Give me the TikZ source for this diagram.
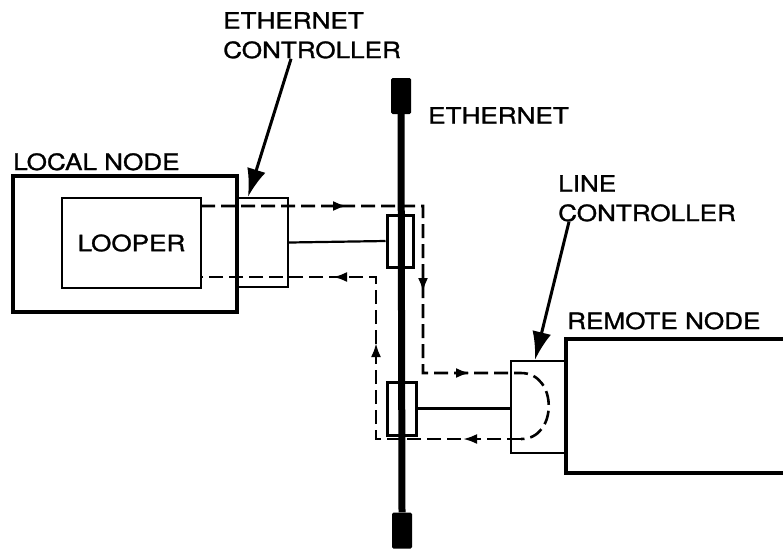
\documentclass[tikz,border=0pt]{standalone}
\usepackage{fontspec}
\setmainfont{TeX Gyre Heros}[FakeStretch=1.16, FakeBold=1.2]
\usetikzlibrary{positioning,arrows.meta,decorations.markings}

\tikzset{
  thinbox/.style={draw, line width=2.4pt, inner sep=0pt},
  hostbox/.style={draw, line width=3.6pt, inner sep=0pt},
  tapbox/.style={draw, line width=3pt, inner sep=0pt, minimum width=26pt, minimum height=52pt},
  endcap/.style={fill, inner sep=0pt, minimum width=20pt, minimum height=36pt, rounded corners=1.5pt},
  note/.style={inner sep=0pt, align=left, anchor=north west},
  callout/.style={-{Latex[length=28pt,width=19pt]}, line width=3pt},
  signal/.style={dash pattern=on 14pt off 6pt, line width=2.6pt},
  flowmark/.style={postaction={decorate, decoration={markings,
      mark=at position #1 with {\arrow{Latex[length=14pt,width=10pt]}}}}},
}

\begin{document}
\begin{tikzpicture}[x=1pt, y=-1pt, >=Latex, font=\fontsize{22.5}{29.5}\selectfont]
  \useasboundingbox (0,0) rectangle (783,550);

  % the two nodes and their controllers
  \node[hostbox, minimum width=224pt, minimum height=136pt] (local) at (125,244) {};
  \node[thinbox, minimum width=139pt, minimum height=90pt] (looper) at (131.5,243) {LOOPER};
  \node[thinbox, minimum width=51pt, minimum height=89pt] (ectrl) at (262.5,242.5) {};
  \node[hostbox, minimum width=234pt, minimum height=134pt] (remote) at (683,406) {};
  \node[thinbox, minimum width=54pt, minimum height=92pt] (lctrl) at (538,407) {};

  % the ethernet cable with its taps
  \node[endcap] (ttop) at (401,96) {};
  \node[endcap] (tbot) at (402,530.5) {};
  \draw[line width=7pt] (ttop.south) -- (tbot.north);
  \node[tapbox] (tap1) at (400,241) {};
  \node[tapbox, minimum width=29pt, minimum height=53pt] (tap2) at (401.5,408.5) {};

  \draw[line width=2.2pt] (ectrl.east) -- (tap1.west);
  \draw[line width=2.2pt] (tap2.east) -- (lctrl.west |- tap2.east);

  % labels
  \node[note] (ectrltxt) at (223,12) {ETHERNET\\CONTROLLER};
  \node[note] (ethtxt) at (428,107) {ETHERNET};
  \node[note] (localtxt) at (13,153) {LOCAL NODE};
  \node[note] (lctrltxt) at (558,175) {LINE\\CONTROLLER};
  \node[note] (remotetxt) at (567,312) {REMOTE NODE};

  \draw[callout] ([xshift=-21pt]ectrltxt.south) -- ([xshift=-14.5pt]ectrl.north);
  \draw[callout] ([xshift=11pt]lctrltxt.south west) -- ([xshift=-3pt]lctrl.north);

  % loop path of the test message
  \coordinate (p1) at (201,206);
  \coordinate (p2) at (423,373);
  \coordinate (p3) at (521,373);
  \coordinate (p4) at (521,439);
  \coordinate (p5) at (376,277);
  \coordinate (p6) at (201,277);
  \draw[signal, flowmark=146pt, flowmark=308pt, flowmark=436pt]
    (p1) -| (p2) -- (p3) .. controls (558,373) and (558,439) .. (p4);
  \draw[signal, flowmark=58pt, flowmark=241pt, flowmark=350pt]
    (p4) -| (p5) -- (p6);
\end{tikzpicture}
\end{document}
